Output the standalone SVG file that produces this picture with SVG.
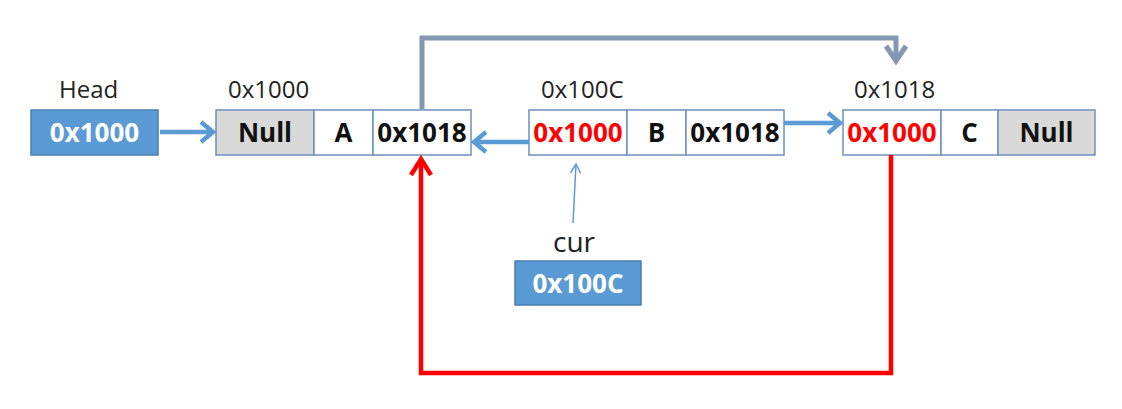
<svg xmlns="http://www.w3.org/2000/svg" width="1122" height="409" viewBox="0 0 1122 409">
<style>
.lbl{font-family:"Open Sans","Liberation Sans",sans-serif;font-size:24px;fill:#222}
.cell{fill:#fff;stroke:#6F8FBF;stroke-width:1.5}
.gray{fill:#D9D9D9}
.ct{font-family:"Open Sans","Liberation Sans",sans-serif;font-size:26px;font-weight:bold;fill:#111;text-anchor:middle}
.red{fill:#FF0000}
.ptr{fill:#5B9BD5;stroke:#4A7EB0;stroke-width:1.5}
.pt{font-family:"Open Sans","Liberation Sans",sans-serif;font-size:26px;font-weight:bold;fill:#fff;text-anchor:middle}
.blue{stroke:#5B9BD5;stroke-width:4.5;fill:none}
</style>
<defs>
<marker id="ab" markerUnits="userSpaceOnUse" viewBox="-18 -14 22 28" markerWidth="22" markerHeight="28" refX="0" refY="0" orient="auto">
<path d="M-12,-10 L0,0 L-12,10" fill="none" stroke="#5B9BD5" stroke-width="4.5"/>
</marker>
<marker id="ag" markerUnits="userSpaceOnUse" viewBox="-20 -15 24 30" markerWidth="24" markerHeight="30" refX="0" refY="0" orient="auto">
<path d="M-15,-10 L0,0 L-15,10" fill="none" stroke="#8497B0" stroke-width="5"/>
</marker>
<marker id="ar" markerUnits="userSpaceOnUse" viewBox="-22 -15 26 30" markerWidth="26" markerHeight="30" refX="0" refY="0" orient="auto">
<path d="M-16,-10 L0,0 L-16,10" fill="none" stroke="#FF0000" stroke-width="4.5"/>
</marker>
<marker id="at" markerUnits="userSpaceOnUse" viewBox="-12 -8 14 16" markerWidth="14" markerHeight="16" refX="0" refY="0" orient="auto">
<path d="M-9,-5 L0,0 L-9,5" fill="none" stroke="#5B9BD5" stroke-width="1.5"/>
</marker>
</defs>

<g id="head">
<text class="lbl" x="59" y="98">Head</text>
<rect class="ptr" x="31" y="110" width="127" height="45"/>
<text class="pt" x="94.5" y="142">0x1000</text>
</g>

<g id="nodeA">
<text class="lbl" x="228" y="98">0x1000</text>
<rect class="cell gray" x="216" y="110" width="98" height="45"/>
<rect class="cell" x="314" y="110" width="59" height="45"/>
<rect class="cell" x="373" y="110" width="98" height="45"/>
<text class="ct" x="265" y="142">Null</text>
<text class="ct" x="343.5" y="142">A</text>
<text class="ct" x="422" y="142">0x1018</text>
</g>

<g id="nodeB">
<text class="lbl" x="541" y="98">0x100C</text>
<rect class="cell" x="529" y="110" width="98" height="45"/>
<rect class="cell" x="627" y="110" width="59" height="45"/>
<rect class="cell" x="686" y="110" width="98" height="45"/>
<text class="ct red" x="578" y="142">0x1000</text>
<text class="ct" x="656.5" y="142">B</text>
<text class="ct" x="735" y="142">0x1018</text>
</g>

<g id="nodeC">
<text class="lbl" x="854" y="98">0x1018</text>
<rect class="cell" x="843" y="110" width="98" height="45"/>
<rect class="cell" x="941" y="110" width="57" height="45"/>
<rect class="cell gray" x="998" y="110" width="97" height="45"/>
<text class="ct red" x="892" y="142">0x1000</text>
<text class="ct" x="969.5" y="142">C</text>
<text class="ct" x="1046.5" y="142">Null</text>
</g>

<g id="cur">
<text class="lbl" x="553" y="252" style="font-size:28px">cur</text>
<rect class="ptr" x="515" y="261" width="126" height="44"/>
<text class="pt" x="578" y="293">0x100C</text>
</g>

<g id="connectors">
<line class="blue" x1="160" y1="132" x2="213" y2="132" marker-end="url(#ab)"/>
<line class="blue" x1="529" y1="142" x2="474" y2="142" marker-end="url(#ab)"/>
<line class="blue" x1="784" y1="123" x2="840" y2="123" marker-end="url(#ab)"/>
<path d="M422,109 V38 H896 V61" fill="none" stroke="#8497B0" stroke-width="5" marker-end="url(#ag)"/>
<path d="M891,155 V373 H421 V159" fill="none" stroke="#FF0000" stroke-width="4.5" marker-end="url(#ar)"/>
<line x1="573" y1="223" x2="576" y2="164" stroke="#5B9BD5" stroke-width="1.5" marker-end="url(#at)"/>
</g>
</svg>
